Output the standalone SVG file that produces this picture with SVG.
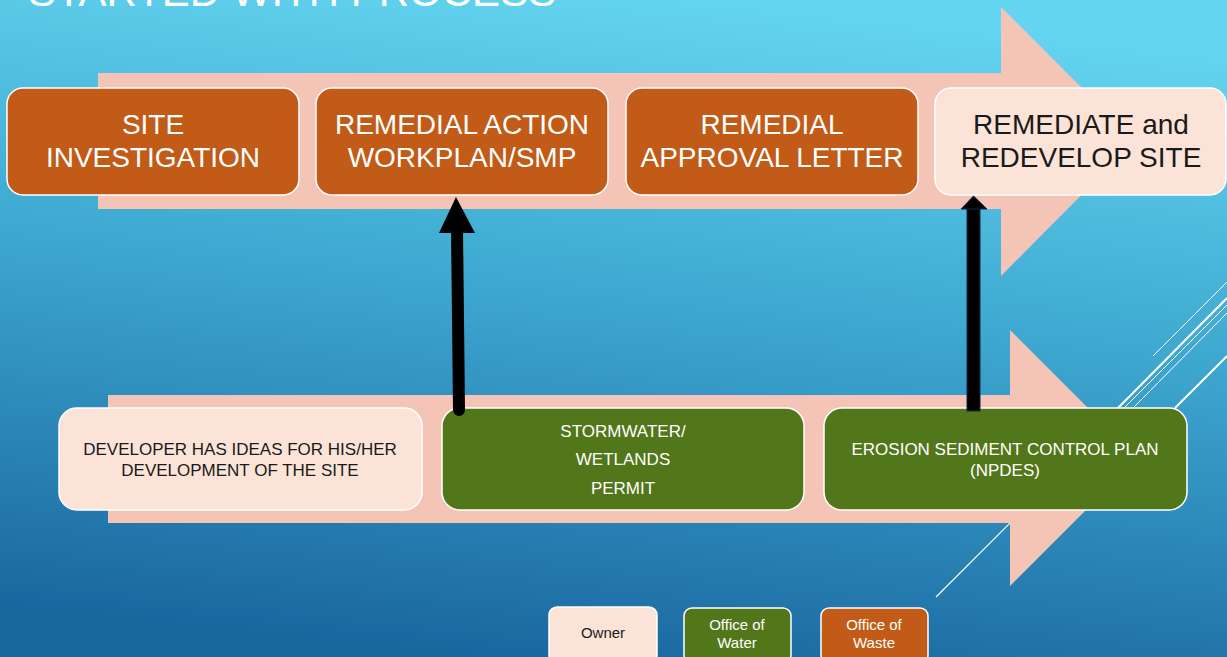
<svg xmlns="http://www.w3.org/2000/svg" width="1227" height="657" viewBox="0 0 1227 657">
<defs>
<linearGradient id="bg" x1="0.6" y1="0" x2="0.4" y2="1">
<stop offset="0" stop-color="#64d5f0"/>
<stop offset="0.45" stop-color="#3ea8d0"/>
<stop offset="1" stop-color="#1a67a0"/>
</linearGradient>
<style>
.t{font-family:"Liberation Sans",Arial,sans-serif;text-anchor:middle}
.big{font-size:28px}
.mid{font-size:17px}
.sm{font-size:15px}
.w{fill:#ffffff}
.k{fill:#1a1a1a}
.waste{fill:#c15b17;stroke:#ffffff;stroke-width:1.5}
.water{fill:#52761a;stroke:#ffffff;stroke-width:1.5}
.owner{fill:#fbe4d7;stroke:#ffffff;stroke-width:1.5}
.band{fill:#f4c5b6}
.deco{stroke:#ffffff;fill:none}
</style>
</defs>
<rect width="1227" height="657" fill="url(#bg)"/>
<text x="28" y="6" class="t w" style="text-anchor:start;font-size:42px">STARTED WITH PROCESS</text>
<g id="decoration">
<line class="deco" x1="1153" y1="356" x2="1227" y2="282" stroke-width="1"/>
<line class="deco" x1="1118" y1="408" x2="1227" y2="298" stroke-width="2"/>
<line class="deco" x1="1124" y1="408" x2="1227" y2="305" stroke-width="1"/>
<line class="deco" x1="1133" y1="408" x2="1227" y2="313" stroke-width="1"/>
<line class="deco" x1="1175" y1="408" x2="1227" y2="356" stroke-width="2"/>
<line class="deco" x1="936" y1="597" x2="1030" y2="503" stroke-width="1.2"/>
</g>
<g id="band-top"><polygon class="band" points="98,73 1001,73 1001,7 1135,141 1001,276 1001,209 98,209"/></g>
<g id="band-bottom"><polygon class="band" points="108,395 1010,395 1010,330 1138,458 1010,586 1010,523 108,523"/></g>
<g id="site-investigation">
<rect class="waste" x="7" y="88" width="292" height="107" rx="16"/>
<text class="t big w" x="153" y="134">SITE</text>
<text class="t big w" x="153" y="167">INVESTIGATION</text>
</g>
<g id="remedial-action">
<rect class="waste" x="316" y="88" width="292" height="107" rx="16"/>
<text class="t big w" x="462" y="134">REMEDIAL ACTION</text>
<text class="t big w" x="462" y="167">WORKPLAN/SMP</text>
</g>
<g id="remedial-approval">
<rect class="waste" x="626" y="88" width="292" height="107" rx="16"/>
<text class="t big w" x="772" y="134">REMEDIAL</text>
<text class="t big w" x="772" y="167">APPROVAL LETTER</text>
</g>
<g id="remediate">
<rect class="owner" x="935" y="88" width="291" height="107" rx="16"/>
<text class="t big k" x="1081" y="134">REMEDIATE and</text>
<text class="t big k" x="1081" y="167">REDEVELOP SITE</text>
</g>
<g id="developer">
<rect class="owner" x="59" y="408" width="363" height="102" rx="18"/>
<text class="t mid k" x="240" y="455">DEVELOPER HAS IDEAS FOR HIS/HER</text>
<text class="t mid k" x="240" y="476">DEVELOPMENT OF THE SITE</text>
</g>
<g id="stormwater">
<rect class="water" x="442" y="408" width="362" height="102" rx="18"/>
<text class="t mid w" x="623" y="437">STORMWATER/</text>
<text class="t mid w" x="623" y="465">WETLANDS</text>
<text class="t mid w" x="623" y="494">PERMIT</text>
</g>
<g id="erosion">
<rect class="water" x="824" y="408" width="363" height="102" rx="18"/>
<text class="t mid w" x="1005" y="455">EROSION SEDIMENT CONTROL PLAN</text>
<text class="t mid w" x="1005" y="476">(NPDES)</text>
</g>
<g id="connectors">
<line x1="459" y1="410" x2="457" y2="228" stroke="#000000" stroke-width="12" stroke-linecap="round"/>
<polygon points="439,233 475,233 456,197" fill="#000000"/>
<rect x="967" y="208" width="13" height="203" fill="#000000" stroke="#0b2a45" stroke-width="1"/>
<polygon points="961,209 987,209 973.5,196" fill="#000000" stroke="#0b2a45" stroke-width="1"/>
</g>
<g id="legend-owner">
<rect class="owner" x="549" y="607" width="108" height="56" rx="8"/>
<text class="t sm k" x="603" y="638">Owner</text>
</g>
<g id="legend-water">
<rect class="water" x="684" y="608" width="107" height="55" rx="8"/>
<text class="t sm w" x="737" y="630">Office of</text>
<text class="t sm w" x="737" y="648">Water</text>
</g>
<g id="legend-waste">
<rect class="waste" x="821" y="608" width="107" height="55" rx="8"/>
<text class="t sm w" x="874" y="630">Office of</text>
<text class="t sm w" x="874" y="648">Waste</text>
</g>
</svg>
